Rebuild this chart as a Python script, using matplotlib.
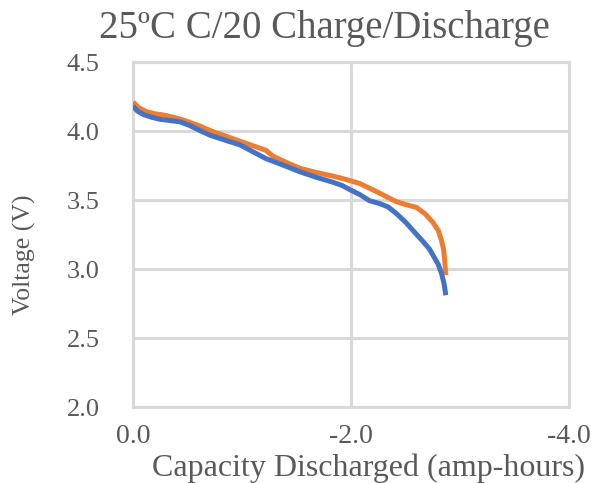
import matplotlib
matplotlib.use("Agg")
import matplotlib.pyplot as plt

# Data
charge_cap = [0.0, -0.04, -0.094, -0.17, -0.247, -0.33, -0.43, -0.52, -0.61, -0.705, -0.84, -0.98,
              -1.10, -1.22, -1.37, -1.53, -1.68, -1.83, -1.92, -1.99, -2.08,
              -2.17, -2.26, -2.34, -2.42, -2.50, -2.58, -2.66, -2.72, -2.76, -2.80, -2.83, -2.855, -2.87]
charge_v = [4.18, 4.145, 4.12, 4.10, 4.085, 4.077, 4.067, 4.04, 4.005, 3.97, 3.935, 3.90,
            3.85, 3.80, 3.755, 3.705, 3.665, 3.63, 3.605, 3.575, 3.54,
            3.495, 3.475, 3.45, 3.40, 3.34, 3.27, 3.20, 3.145, 3.09, 3.035, 2.97, 2.89, 2.81]
dis_cap = [0.0, -0.05, -0.125, -0.20, -0.28, -0.37, -0.46, -0.60, -0.735, -0.89, -1.04, -1.13,
           -1.22, -1.28, -1.40, -1.53, -1.68, -1.83, -1.95, -2.08, -2.25,
           -2.41, -2.51, -2.60, -2.68, -2.75, -2.80, -2.83, -2.85, -2.86, -2.87]
dis_v = [4.21, 4.17, 4.14, 4.125, 4.116, 4.10, 4.08, 4.04, 3.995, 3.952, 3.91, 3.885,
         3.86, 3.82, 3.775, 3.73, 3.70, 3.674, 3.65, 3.62, 3.555,
         3.49, 3.465, 3.447, 3.40, 3.34, 3.28, 3.21, 3.14, 3.065, 2.955]
x_ticks = [0.0, -2.0, -4.0]
y_ticks = [2.0, 2.5, 3.0, 3.5, 4.0, 4.5]

title = "25ºC C/20 Charge/Discharge"
xlabel = "Capacity Discharged (amp-hours)"
ylabel = "Voltage (V)"

plt.rcParams['font.family'] = ['Liberation Serif', 'DejaVu Serif']
text_color = '#595959'
grid_color = '#d9d9d9'

fig = plt.figure(figsize=(5.97, 4.83), dpi=100)
ax = fig.add_axes([0.2228, 0.1573, 0.953 - 0.2228, 0.8716 - 0.1573])

ax.plot(dis_cap, dis_v, color='#ED7D31', lw=3.6, solid_capstyle='butt',
        solid_joinstyle='round', zorder=3)
ax.plot(charge_cap, charge_v, color='#4472C4', lw=3.6, solid_capstyle='butt',
        solid_joinstyle='round', zorder=4)

ax.set_xlim(0, -4.0)
ax.set_ylim(2.0, 4.5)
ax.set_xticks(x_ticks)
ax.set_xticklabels([f"{v:.1f}" for v in x_ticks])
ax.set_yticks(y_ticks)
ax.set_yticklabels([f"{v:.1f}" for v in y_ticks])
ax.grid(True, color=grid_color, lw=2.2)
ax.set_axisbelow(True)
for s in ax.spines.values():
    s.set_color(grid_color)
    s.set_linewidth(2.2)
ax.tick_params(length=0, colors=text_color)
ax.tick_params(axis='y', pad=24, labelsize=19)
ax.tick_params(axis='x', pad=12, labelsize=20)

ax.set_title(title, fontsize=28, color=text_color, x=0.438, y=1.0, pad=17)
ax.set_xlabel(xlabel, fontsize=23, color=text_color, labelpad=4)
ax.xaxis.set_label_coords(0.54, -0.135)
ax.set_ylabel(ylabel, fontsize=18.5, color=text_color)
ax.yaxis.set_label_coords(-0.222, 0.44)

fig.savefig("out.png", dpi=100)
